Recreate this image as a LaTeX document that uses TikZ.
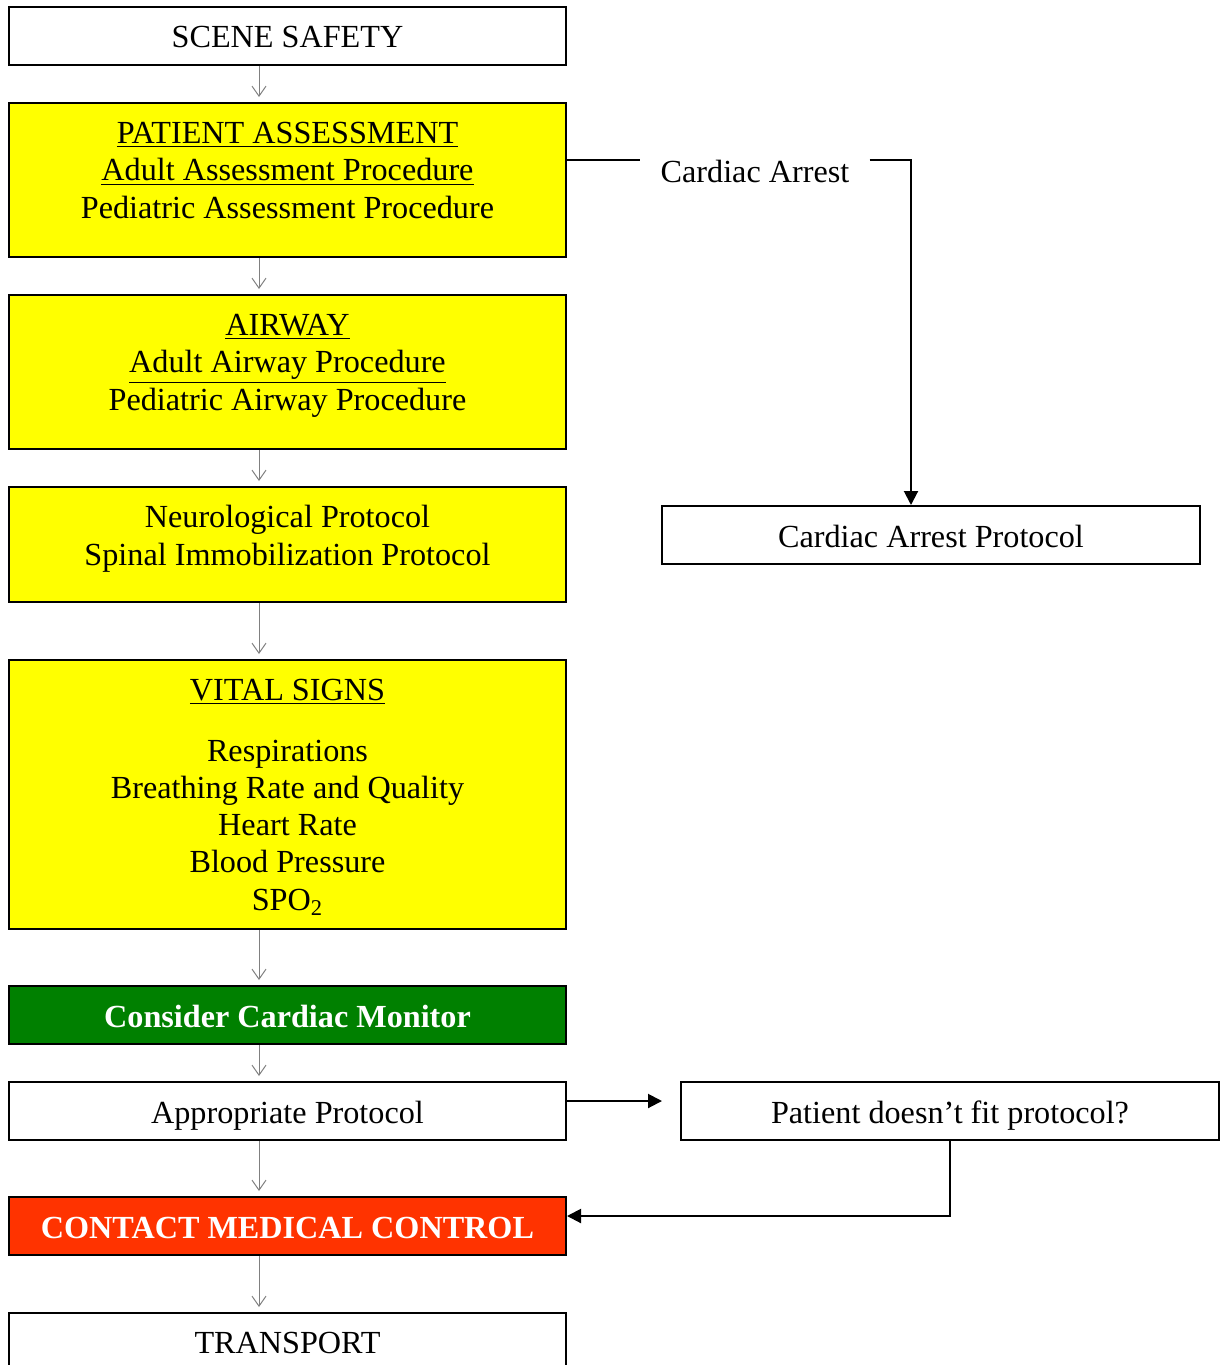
\documentclass[tikz,border=0pt]{standalone}
\usepackage{fontspec}
\setmainfont{Liberation Serif}
\usetikzlibrary{arrows.meta}
\definecolor{boxyellow}{HTML}{FFFF00}
\definecolor{monitorgreen}{HTML}{008000}
\definecolor{alertred}{HTML}{FF3300}
\tikzset{box/.style = {draw, line width = 1pt, inner sep = 0, minimum width = 278.5pt}}
\tikzset{sidebox/.style = {box, minimum width = 269pt}}
\tikzset{txt/.style = {anchor = base, align = center, inner sep = 0}}
\tikzset{flow/.style = {draw = gray, line width = 0.5pt, -{Straight Barb[length = 5pt, width = 7pt]}, shorten > = 2.5pt}}
\tikzset{link/.style = {line width = 1pt}}
\tikzset{jump/.style = {link, -{Triangle[length = 7pt, width = 7pt]}}}

\begin{document}
\begin{tikzpicture}[x = 0.5pt, y = -0.5pt, font = \fontsize{16.1}{18.6}\selectfont]
    \useasboundingbox (0, 0) rectangle (1225, 1365);
    \clip (0, 0) rectangle (1225, 1365);

    % main column
    \node [box, minimum height = 29pt] (scene) at (287.5, 36) {};
    \node [box, fill = boxyellow, minimum height = 77pt] (assess) at (287.5, 180) {};
    \node [box, fill = boxyellow, minimum height = 77pt] (airway) at (287.5, 372) {};
    \node [box, fill = boxyellow, minimum height = 57.5pt] (neuro) at (287.5, 544.5) {};
    \node [box, fill = boxyellow, minimum height = 134.5pt] (vitals) at (287.5, 794.5) {};
    \node [box, fill = monitorgreen, minimum height = 29pt] (monitor) at (287.5, 1015) {};
    \node [box, minimum height = 29pt] (approp) at (287.5, 1111) {};
    \node [box, fill = alertred, minimum height = 29pt] (contact) at (287.5, 1226) {};
    \node [box, minimum height = 29pt] (transport) at (287.5, 1342) {};

    % side column
    \node [sidebox, minimum height = 29pt] (arrestp) at (931, 535) {};
    \node [sidebox, minimum height = 29pt] (nofit) at (950, 1111) {};

    % texts (base = last line)
    \node [txt] (scene-t) at (287.5, 47) {SCENE SAFETY};
    \node [txt] (assess-t) at (287.5, 218) {\underline{PATIENT ASSESSMENT}\\
        \underline{Adult Assessment Procedure}\\ Pediatric Assessment Procedure};
    \node [txt] (airway-t) at (287.5, 410) {\underline{AIRWAY}\\
        \underline{Adult Airway Procedure}\\ Pediatric Airway Procedure};
    \node [txt] (neuro-t) at (287.5, 565) {Neurological Protocol\\ Spinal Immobilization Protocol};
    \node [txt] (vitals-t) at (287.5, 910) {\underline{VITAL SIGNS}\\[12pt]
        Respirations\\ Breathing Rate and Quality\\ Heart Rate\\ Blood Pressure\\ SPO\textsubscript{2}};
    \node [txt, text = white, font = \fontsize{16.1}{18.6}\selectfont\bfseries] (monitor-t) at (287.5, 1027) {Consider Cardiac Monitor};
    \node [txt] (approp-t) at (287.5, 1123) {Appropriate Protocol};
    \node [txt, text = white, font = \fontsize{16.1}{18.6}\selectfont\bfseries] (contact-t) at (287.5, 1238) {CONTACT MEDICAL CONTROL};
    \node [txt] (transport-t) at (287.5, 1353) {TRANSPORT};
    \node [txt] (arrestp-t) at (931, 547) {Cardiac Arrest Protocol};
    \node [txt] (nofit-t) at (950, 1123) {Patient doesn’t fit protocol?};
    \node [txt, inner xsep = 10pt] (arrest) at (755, 182) {Cardiac Arrest};

    % thin arrows down the column
    \coordinate (spine) at (259, 0);
    \draw [flow] (scene.south -| spine) -- (assess.north -| spine);
    \draw [flow] (assess.south -| spine) -- (airway.north -| spine);
    \draw [flow] (airway.south -| spine) -- (neuro.north -| spine);
    \draw [flow] (neuro.south -| spine) -- (vitals.north -| spine);
    \draw [flow] (vitals.south -| spine) -- (monitor.north -| spine);
    \draw [flow] (monitor.south -| spine) -- (approp.north -| spine);
    \draw [flow] (approp.south -| spine) -- (contact.north -| spine);
    \draw [flow] (contact.south -| spine) -- (transport.north -| spine);

    % branches
    \coordinate (bend) at (911, 160);
    \draw [link] (assess.east |- bend) -- (arrest.west |- bend);
    \draw [jump] (arrest.east |- bend) -- (bend) -- (arrestp.north -| bend);
    \coordinate (fwd) at (662, 1101);
    \draw [jump] (approp.east |- fwd) -- (fwd);
    \coordinate (back) at (950, 1216);
    \draw [jump] (nofit.south) -- (back) -- (contact.east |- back);
\end{tikzpicture}
\end{document}
